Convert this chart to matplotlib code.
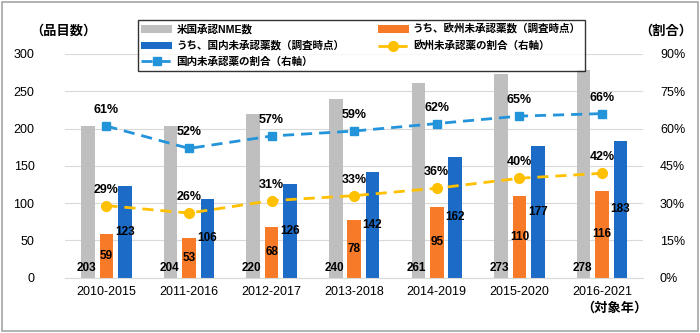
import numpy as np
import matplotlib
matplotlib.use('Agg')
import matplotlib.pyplot as plt
from matplotlib.patches import Rectangle

plt.rcParams['font.family'] = ['Liberation Sans', 'Noto Sans CJK JP']

# data
years = ['2010-2015', '2011-2016', '2012-2017', '2013-2018', '2014-2019', '2015-2020', '2016-2021']
us_nme = [203, 204, 220, 240, 261, 273, 278]
eu_unapproved = [59, 53, 68, 78, 95, 110, 116]
jp_unapproved = [123, 106, 126, 142, 162, 177, 183]
eu_ratio = [29, 26, 31, 33, 36, 40, 42]
jp_ratio = [61, 52, 57, 59, 62, 65, 66]

c_gray = '#BFBFBF'
c_orange = '#F67A28'
c_blue = '#1C6BC6'
c_yellow = '#FFC000'
c_lblue = '#2394DA'

fig = plt.figure(figsize=(7, 3.33), dpi=100)
ax = fig.add_axes([0.093, 0.166, 0.826, 0.672])
ax2 = ax.twinx()

x = np.arange(len(years))
w = 0.165
off = 0.222

b1 = ax.bar(x - off, us_nme, w, color=c_gray, label='米国承認NME数', zorder=2)
b2 = ax.bar(x, eu_unapproved, w, color=c_orange, label='うち、欧州未承認薬数（調査時点）', zorder=2)
b3 = ax.bar(x + off, jp_unapproved, w, color=c_blue, label='うち、国内未承認薬数（調査時点）', zorder=2)

for i in x:
    ax.text(i - off - 0.02, 5, str(us_nme[i]), ha='center', va='bottom', fontsize=8.5, fontweight='bold')
    ax.text(i, eu_unapproved[i] / 2, str(eu_unapproved[i]), ha='center', va='center', fontsize=8.5, fontweight='bold')
    ax.text(i + off, jp_unapproved[i] / 2, str(jp_unapproved[i]), ha='center', va='center', fontsize=8.5, fontweight='bold')

l1, = ax2.plot(x, jp_ratio, color=c_lblue, ls=(0, (4, 2.5)), lw=2, marker='s', ms=6,
               label='国内未承認薬の割合（右軸）', zorder=3)
l2, = ax2.plot(x, eu_ratio, color=c_yellow, ls=(0, (4, 2.5)), lw=2, marker='o', ms=7,
               label='欧州未承認薬の割合（右軸）', zorder=3)
for i in x:
    ax2.text(i, jp_ratio[i] + 4, f'{jp_ratio[i]}%', ha='center', va='bottom', fontsize=9, fontweight='bold')
    ax2.text(i, eu_ratio[i] + 4, f'{eu_ratio[i]}%', ha='center', va='bottom', fontsize=9, fontweight='bold')

ax.set_xlim(-0.5, len(years) - 0.5)
ax.set_ylim(0, 300)
ax.set_yticks(range(0, 301, 50))
ax2.set_ylim(0, 90)
ax2.set_yticks(range(0, 91, 15))
ax2.set_yticklabels([f'{v}%' for v in range(0, 91, 15)])
ax.set_xticks(x)
ax.set_xticklabels(years)

ax.grid(axis='y', color='#D9D9D9', lw=0.8, zorder=0)
ax.set_axisbelow(True)
for a in (ax, ax2):
    for s in a.spines.values():
        s.set_visible(False)
    a.tick_params(length=0, labelsize=9)
ax.spines['bottom'].set_visible(True)
ax.spines['bottom'].set_color('#D9D9D9')
ax.tick_params(axis='y', pad=22)
ax2.tick_params(axis='y', pad=12)
ax.tick_params(axis='x', pad=6)

fig.text(0.043, 0.905, '（品目数）', fontsize=9.5, fontweight='bold', va='center')
fig.text(0.913, 0.905, '（割合）', fontsize=9.5, fontweight='bold', va='center')
fig.text(0.877, 0.075, '（対象年）', fontsize=9.5, fontweight='bold', va='center', ha='center')

leg = fig.legend([b1, b3, l1, b2, l2],
                 [b1.get_label(), b3.get_label(), l1.get_label(), b2.get_label(), l2.get_label()],
                 ncol=2, loc='upper center', bbox_to_anchor=(0.516, 0.94),
                 frameon=True, fancybox=False, edgecolor='black', handlelength=2.9,
                 columnspacing=3.2, labelspacing=0.55, borderpad=0.35, handletextpad=0.4,
                 borderaxespad=0, prop={'weight': 'bold', 'size': 7.6})
leg.get_frame().set_linewidth(1)

fig.patches.append(Rectangle((0.003, 0.006), 0.994, 0.988, transform=fig.transFigure,
                             fill=False, edgecolor='#A6A6A6', lw=1.2))

fig.savefig('out.png', dpi=100)
